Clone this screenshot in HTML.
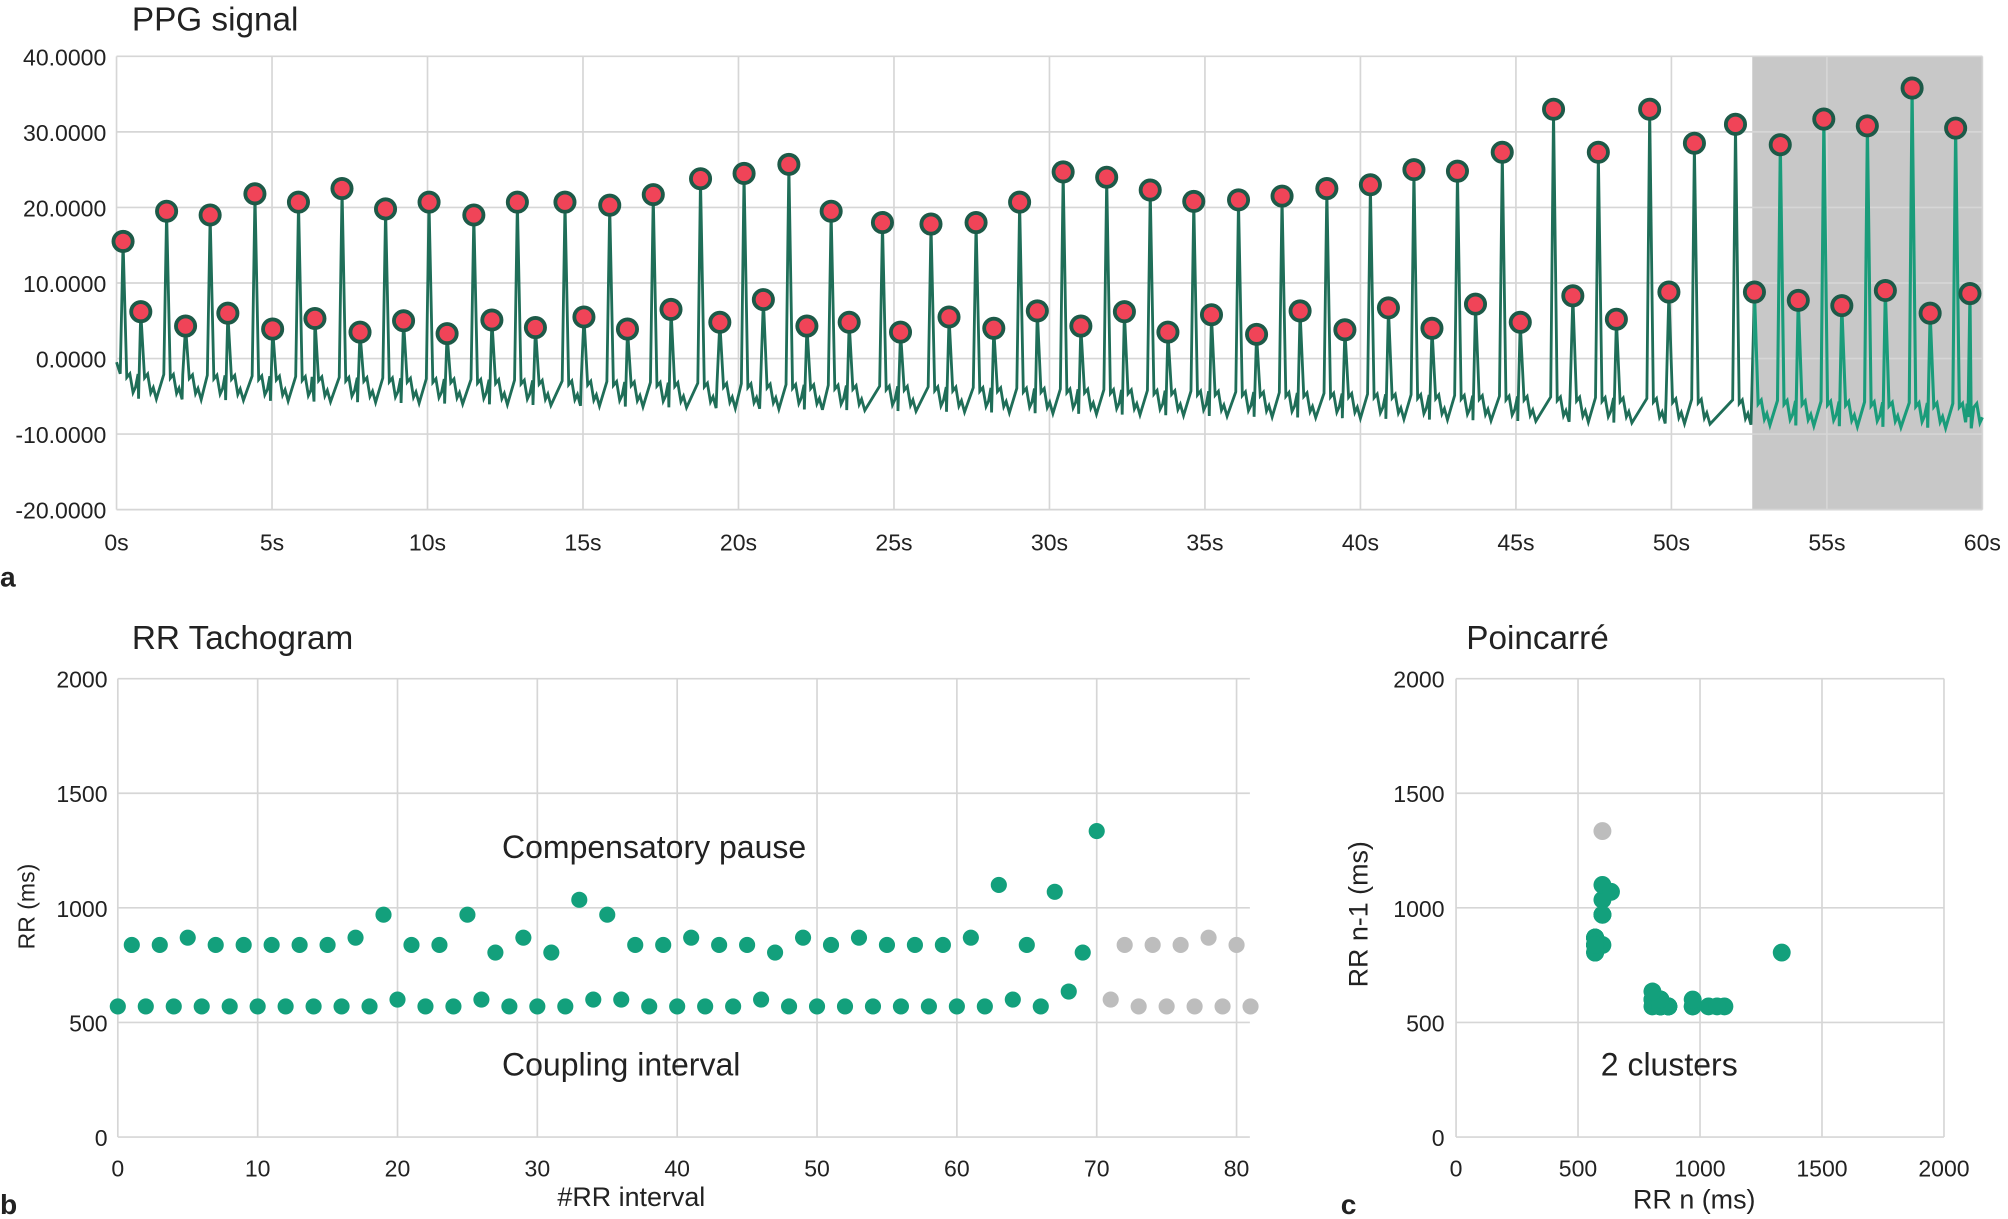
<!DOCTYPE html>
<html><head><meta charset="utf-8">
<style>
html,body{margin:0;padding:0;background:#fff;}
svg{display:block;}
text{font-family:"Liberation Sans",sans-serif;fill:#222;}
.tick{font-size:18px;}
.title{font-family:"Liberation Sans Narrow","Liberation Sans",sans-serif;font-size:26px;}
.ann{font-family:"Liberation Sans Narrow","Liberation Sans",sans-serif;font-size:25px;}
.lbl{font-weight:bold;font-size:22px;}
</style></head>
<body>
<svg id="fig" width="2008" height="1219" viewBox="0 0 1568 952" preserveAspectRatio="none" xmlns="http://www.w3.org/2000/svg">
<defs>
<clipPath id="cl"><rect x="0" y="0" width="1369" height="450"/></clipPath>
<clipPath id="cr"><rect x="1369" y="0" width="200" height="450"/></clipPath>
</defs>
<g id="pa"></g>
<g id="pb"></g>
<g id="pc"></g>
</svg>
<script>
// PPG data
const ppgPeakTimes=[0.21,1.61,3.01,4.45,5.85,7.25,8.65,10.05,11.49,12.89,14.42,15.86,17.26,18.78,20.18,21.62,22.98,24.63,26.19,27.64,29.04,30.44,31.84,33.24,34.64,36.08,37.48,38.92,40.32,41.72,43.12,44.56,46.21,47.65,49.30,50.74,52.06,53.50,54.90,56.30,57.74,59.14];
const ppgPeakValues=[15.5,19.5,19,21.8,20.7,22.5,19.8,20.7,19,20.7,20.7,20.3,21.7,23.8,24.5,25.7,19.5,18,17.8,18,20.7,24.7,24,22.3,20.8,21,21.5,22.5,23,25,24.8,27.3,33,27.3,33,28.5,31,28.3,31.7,30.8,35.8,30.5];
const ppgSecTimes=[0.78,2.22,3.58,5.02,6.38,7.83,9.23,10.63,12.07,13.47,15.03,16.43,17.83,19.40,20.80,22.20,23.56,25.21,26.77,28.21,29.61,31.01,32.41,33.81,35.21,36.66,38.06,39.50,40.90,42.30,43.70,45.14,46.83,48.23,49.92,52.67,54.08,55.48,56.88,58.32,59.60];
const ppgSecValues=[6.2,4.3,6,3.9,5.3,3.5,5,3.3,5.1,4.1,5.5,3.9,6.5,4.8,7.8,4.3,4.8,3.5,5.5,4,6.3,4.3,6.2,3.5,5.8,3.2,6.3,3.8,6.7,4,7.2,4.8,8.3,5.2,8.8,8.8,7.7,7,9,6,8.6];
const ppgYTicks=[40,30,20,10,0,-10,-20];
const ppgXTicks=[0,5,10,15,20,25,30,35,40,45,50,55,60];
const selStart=52.6;
// RR data
const rr=[570,838,570,838,570,870,570,838,570,838,570,838,570,838,570,838,570,870,570,970,600,838,570,838,570,970,600,805,570,870,570,805,570,1035,600,970,600,838,570,838,570,870,570,838,570,838,600,805,570,870,570,838,570,870,570,838,570,838,570,838,570,870,570,1100,600,838,570,1070,635,805,1335,600,838,570,838,570,838,570,870,570,838,570];
const rrValidCount=71;
const rrXTicks=[0,10,20,30,40,50,60,70,80];
const rrYTicks=[0,500,1000,1500,2000];
const pcXTicks=[0,500,1000,1500,2000];

const NS='http://www.w3.org/2000/svg';
function mk(parent,tag,attrs,txt){const e=document.createElementNS(NS,tag);for(const k in attrs)e.setAttribute(k,attrs[k]);if(txt!==undefined)e.textContent=txt;parent.appendChild(e);return e;}

// Panel A
const pa=document.getElementById('pa');
const ax0=91,ax1=1548,ay0=398,ay1=44;
const xa=t=>ax0+(t/60)*(ax1-ax0);
const ya=v=>ay0-((v+20)/60)*(ay0-ay1);
let t1=mk(pa,'text',{x:103,y:24,class:'title'},'PPG signal');

let sel=mk(pa,'rect',{x:xa(selStart),y:ay1,width:ax1-xa(selStart),height:ay0-ay1,fill:'#c8c8c8'});

ppgYTicks.forEach(v=>{
  let l=mk(pa,'line',{x1:ax0,x2:ax1,y1:ya(v),y2:ya(v),stroke:'#d6d6d6','stroke-width':1.3});
  
  let t=mk(pa,'text',{x:83,y:ya(v)+7,class:'tick','text-anchor':'end'},v.toFixed(4));
  
});
ppgXTicks.forEach(v=>{
  let l=mk(pa,'line',{x1:xa(v),x2:xa(v),y1:ay1,y2:ay0,stroke:'#d6d6d6','stroke-width':1.3});
  
  let t=mk(pa,'text',{x:xa(v),y:430,class:'tick','text-anchor':'middle'},v+'s');
  
});
// waveform derived from markers (all events merged in time order)
const events=[];
ppgPeakTimes.forEach((t,i)=>events.push([t,ppgPeakValues[i]]));
ppgSecTimes.forEach((t,i)=>events.push([t,ppgSecValues[i]]));
events.sort((a,b)=>a[0]-b[0]);
let pts=[[0,-0.5]];
events.forEach(([t,v])=>{
  const base=-2-(t/60)*4;
  pts.push([t-0.09,base]);pts.push([t,v]);pts.push([t+0.12,base-0.5]);
  pts.push([t+0.22,base]);pts.push([t+0.32,base-2.5]);pts.push([t+0.4,base-1.8]);pts.push([t+0.5,base-3.3]);
});
pts.sort((a,b)=>a[0]-b[0]);
const dStr=pts.filter(p=>p[0]<=60).map((p,i)=>(i?'L':'M')+xa(p[0]).toFixed(1)+','+ya(p[1]).toFixed(1)).join('');
let wl=mk(pa,'path',{d:dStr,fill:'none',stroke:'#1f6e58','stroke-width':2.2,'clip-path':'url(#cl)'});

let wr=mk(pa,'path',{d:dStr,fill:'none',stroke:'#1a9c7a','stroke-width':2.4,'clip-path':'url(#cr)'});

function marker(t,v,nm){let c=mk(pa,'circle',{cx:xa(t),cy:ya(v),r:7.5,fill:'#f04458',stroke:'#1d5a48','stroke-width':3});
  }
ppgPeakTimes.forEach((t,i)=>marker(t,ppgPeakValues[i],'peak-marker'));
ppgSecTimes.forEach((t,i)=>marker(t,ppgSecValues[i],'secondary-marker'));
let la=mk(pa,'text',{x:0,y:458,class:'lbl'},'a');


// Panel B
const pb=document.getElementById('pb');
const bx0=92,bxr=976,by0=888,by1=530;
const xb=n=>bx0+n*10.92;
const yb=v=>by0-(v/2000)*(by0-by1);
let t2=mk(pb,'text',{x:103,y:507,class:'title'},'RR Tachogram');

rrYTicks.forEach(v=>{
  let l=mk(pb,'line',{x1:bx0,x2:bxr,y1:yb(v),y2:yb(v),stroke:'#d6d6d6','stroke-width':1.3});
  
  let t=mk(pb,'text',{x:84,y:yb(v)+7,class:'tick','text-anchor':'end'},String(v));
  
});
rrXTicks.forEach(v=>{
  let l=mk(pb,'line',{x1:xb(v),x2:xb(v),y1:by1,y2:by0,stroke:'#d6d6d6','stroke-width':1.3});
  
  let t=mk(pb,'text',{x:xb(v),y:919,class:'tick','text-anchor':'middle'},String(v));
  
});
rr.forEach((v,i)=>{
  let c=mk(pb,'circle',{cx:xb(i),cy:yb(v),r:6.3,fill:i<rrValidCount?'#13a07c':'#bdbdbd'});
  
});
let a1=mk(pb,'text',{x:392,y:670,class:'ann'},'Compensatory pause');

let a2=mk(pb,'text',{x:392,y:840,class:'ann'},'Coupling interval');

let yt=mk(pb,'text',{x:27,y:708,class:'tick','text-anchor':'middle',transform:'rotate(-90 27 708)'},'RR (ms)');

let xt=mk(pb,'text',{x:493,y:942,class:'ann','text-anchor':'middle',style:'font-size:21px'},'#RR interval');

let lb=mk(pb,'text',{x:0,y:948,class:'lbl'},'b');


// Panel C
const pc=document.getElementById('pc');
const cx0=1137,cx1=1518;
const xc=v=>cx0+(v/2000)*(cx1-cx0);
let t3=mk(pc,'text',{x:1145,y:507,class:'title'},'Poincarré');

rrYTicks.forEach(v=>{
  let l=mk(pc,'line',{x1:cx0,x2:cx1,y1:yb(v),y2:yb(v),stroke:'#d6d6d6','stroke-width':1.3});
  
  let t=mk(pc,'text',{x:1128,y:yb(v)+7,class:'tick','text-anchor':'end'},String(v));
  
});
pcXTicks.forEach(v=>{
  let l=mk(pc,'line',{x1:xc(v),x2:xc(v),y1:by1,y2:by0,stroke:'#d6d6d6','stroke-width':1.3});
  
  let t=mk(pc,'text',{x:xc(v),y:919,class:'tick','text-anchor':'middle'},String(v));
  
});
// gray (excluded) points first, green on top
for(let i=rr.length-1;i>=1;i--){
  if(i<rrValidCount) continue;
  let c=mk(pc,'circle',{cx:xc(rr[i]),cy:yb(rr[i-1]),r:7,fill:'#bdbdbd'});
  
}
for(let i=1;i<rrValidCount&&i<rr.length;i++){
  let c=mk(pc,'circle',{cx:xc(rr[i]),cy:yb(rr[i-1]),r:7,fill:'#13a07c'});
  
}
let a3=mk(pc,'text',{x:1250,y:840,class:'ann'},'2 clusters');

let yt2=mk(pc,'text',{x:1068,y:714,class:'ann','text-anchor':'middle',style:'font-size:21px',transform:'rotate(-90 1068 714)'},'RR n-1 (ms)');

let xt2=mk(pc,'text',{x:1323,y:944,class:'ann','text-anchor':'middle',style:'font-size:21px'},'RR n (ms)');

let lc=mk(pc,'text',{x:1047,y:948,class:'lbl'},'c');

</script>
</body></html>
